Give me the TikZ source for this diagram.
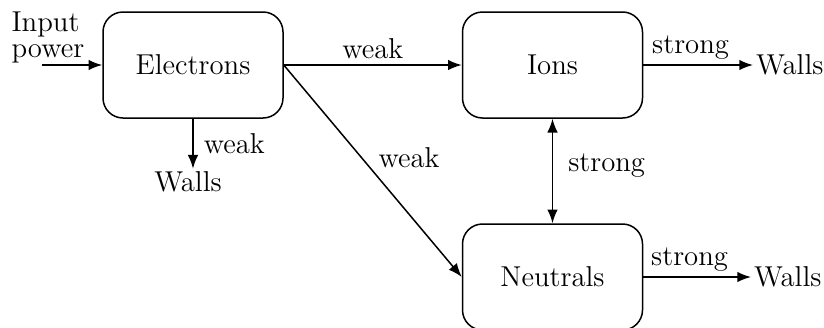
\documentclass[tikz,border=0pt]{standalone}
\usetikzlibrary{arrows.meta}
\begin{document}
\begin{tikzpicture}[x=0.4pt, y=-0.4pt,
  every node/.style={font=\fontsize{11.5}{10.4}\selectfont},
  species/.style={draw, line width=0.6pt, rounded corners=8pt,
    minimum width=72pt, minimum height=42.4pt, inner sep=0pt},
  tip/.tip={Latex[length=5.5pt,width=4.2pt]},
  flow/.style={line width=0.6pt, -tip},
  both/.style={line width=0.6pt, tip-tip},
  lbl/.style={inner sep=2pt}]
  \clip (0,0) rectangle (824,327);

  % particle species
  \node[species] (el)  at (193,65)  {Electrons};
  \node[species] (ion) at (552.5,65)  {Ions};
  \node[species] (neu) at (552.5,277) {Neutrals};

  % sources and sinks
  \node[align=left, anchor=north west, inner sep=0pt] (in) at (11,11) {Input\\power};
  \coordinate (inStart) at (42,65);
  \node[inner sep=1pt] (wEl)  at (188,182) {Walls};
  \node[inner sep=1pt, anchor=west] (wIon) at (753,65)  {Walls};
  \node[inner sep=1pt, anchor=west] (wNeu) at (751,277) {Walls};

  % energy / particle flows
  \draw[flow] (inStart) -- (el.west);
  \draw[flow] (el.east) -- node[lbl, above] {weak} (ion.west);
  \draw[flow] (el.south) -- (el.south |- wEl.north) node[lbl, midway, right, xshift=2pt] {weak};
  \draw[flow] (el.east) -- (neu.west) node[lbl, pos=0.5, anchor=south west, inner sep=1pt, xshift=1pt] {weak};
  \draw[both] (ion.south) -- node[lbl, right, xshift=4pt, yshift=2pt] {strong} (neu.north);
  \draw[flow] (ion.east) -- node[lbl, above, xshift=-3pt] {strong} (wIon.west);
  \draw[flow] (neu.east) -- node[lbl, above, xshift=-3pt] {strong} (wNeu.west);
\end{tikzpicture}
\end{document}
